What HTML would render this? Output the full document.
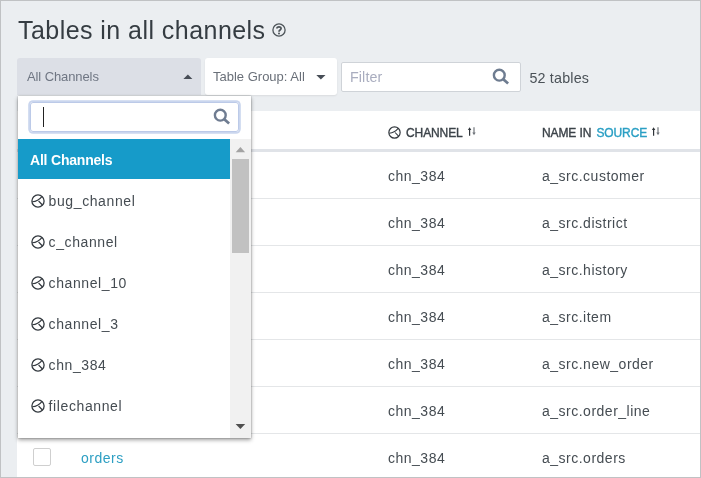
<!DOCTYPE html>
<html><head><meta charset="utf-8">
<style>
*{box-sizing:border-box;margin:0;padding:0}
html,body{width:701px;height:478px;overflow:hidden}
body{position:relative;background:#ebeef1;font-family:"Liberation Sans",sans-serif;color:#3b4248}
.abs{position:absolute}
.t{position:absolute;white-space:nowrap;display:inline-block;transform-origin:0 0}
#frame{left:0;top:0;width:701px;height:478px;border:1px solid #c0c2c4;z-index:50}
#title{left:18px;top:13px;font-size:25px;line-height:34px;color:#353c42;letter-spacing:.45px}
#sel{left:17px;top:58px;width:184px;height:37px;background:#dcdfe6;border-radius:3px 3px 0 0}
#sel .t{left:10px;top:11px;letter-spacing:-.1px;font-size:13px;color:#6f7683;line-height:16px}
.tri-up{position:absolute;width:0;height:0;border-left:4.4px solid transparent;border-right:4.4px solid transparent;border-bottom:4.4px solid #5a6169}
.tri-dn{position:absolute;width:0;height:0;border-left:4.5px solid transparent;border-right:4.5px solid transparent;border-top:4.4px solid #5a6169}
#tg{left:205px;top:58px;width:132px;height:37px;background:#fff;border-radius:3px;box-shadow:0 1px 2px rgba(0,0,0,.08)}
#tg .t{left:8px;top:11px;font-size:13px;color:#6a7079;line-height:16px}
#flt{left:341px;top:62px;width:180px;height:30px;background:#fff;border:1px solid #cfd3d8;border-radius:2px}
#flt .t{left:8px;top:5.7px;letter-spacing:.1px;font-size:14.3px;color:#a9adbf;line-height:16px}
#cnt{left:529.4px;top:70.3px;letter-spacing:.2px;font-size:14.3px;color:#4a5157;line-height:16px}
#table{left:17px;top:111px;width:684px;height:367px;background:#fff}
.hdr{position:absolute;top:0;left:0;width:100%;height:41px;border-bottom:3px solid #e0e3e8}
.row{position:absolute;left:0;width:100%;height:47px;border-bottom:1px solid #e4e6e8}
.c1,.c2{position:absolute;top:16px;font-size:14px;letter-spacing:.5px;line-height:17px;color:#454c52;white-space:nowrap;transform-origin:0 0}
.c1{left:371px}.c2{left:525px}
.h1,.h2{position:absolute;top:15px;font-size:12px;font-weight:400;-webkit-text-stroke:.37px;letter-spacing:-.1px;color:#3b4248;line-height:14px;white-space:nowrap;transform-origin:0 0}
.h1{left:389px}.h2{left:525px}
#dd{left:18px;top:96px;width:233px;height:342px;background:#fff;box-shadow:0 1.5px 4px rgba(0,0,0,.38), 0 0 1.5px rgba(0,0,0,.35);z-index:10}
#srch{position:absolute;left:12px;top:6px;width:209px;height:30px;border:1px solid #bccae8;border-radius:3px;box-shadow:0 0 0 1.8px #cad6ee}
#caret{position:absolute;left:12px;top:4px;width:1px;height:20px;background:#222}
#list{position:absolute;left:0;top:43px;width:212px;height:299px;overflow:hidden}
.opt{position:absolute;left:0;width:212px;height:41px;font-size:14px;letter-spacing:.6px;color:#454c52}
.opt .t{left:30.6px;top:13px;line-height:17px}
.opt svg{position:absolute;left:13.1px;top:14.3px;color:#33393f}
.opt.sel{background:#169bc9;color:#fff;font-weight:700;height:40px;letter-spacing:-.2px}
.opt.sel .t{left:12px}
#sb{position:absolute;left:212px;top:43px;width:21px;height:299px;background:#f1f1f1}
#thumb{position:absolute;left:2px;top:20px;width:17px;height:94px;background:#c1c1c1}
svg{overflow:visible}
body{will-change:transform}</style></head><body>
<svg width="0" height="0" style="position:absolute"><defs>
<g id="chn"><circle cx="7" cy="7" r="6.1" fill="none" stroke="currentColor" stroke-width="1.3"/><path d="M1.3 7.8 C4 7.6 7.5 6.8 10.9 2.6 M7.6 7 L11.4 11" fill="none" stroke="currentColor" stroke-width="1.15"/></g>
<g id="mag"><circle cx="6.3" cy="6.2" r="5.4" fill="none" stroke="currentColor" stroke-width="2.4"/><path d="M10 9.9 L15.1 14.6" stroke="currentColor" stroke-width="2.7"/></g>
<g id="sort"><path d="M2.6 8.8 V2" stroke="#2e3338" stroke-width="1.2"/><path d="M0.9 2.9 L2.6 0.2 L4.3 2.9Z" fill="#2e3338"/><path d="M7 0.2 V6.5" stroke="#70757b" stroke-width="1.2"/><path d="M5.3 5.6 L7 8.3 L8.7 5.6Z" fill="#70757b"/></g>
</defs></svg>
<div class="t" id="title">Tables in all channels</div>
<svg class="abs" style="left:272px;top:23px;color:#4d5459" width="14" height="14" viewBox="0 0 14 14"><circle cx="7" cy="7" r="6.1" fill="none" stroke="currentColor" stroke-width="1.3"/><path d="M4.9 5.6 C4.9 3.2 9.1 3.2 9.1 5.6 C9.1 7.1 7 7 7 8.7" fill="none" stroke="currentColor" stroke-width="1.7"/><circle cx="7" cy="10.5" r="1" fill="currentColor"/></svg>
<div class="abs" id="sel"><span class="t">All Channels</span><svg class="abs" style="left:0;top:0" width="184" height="37"><path d="M166.4 21.1 L170.9 16.6 L175.4 21.1Z" fill="#474d56"/></svg></div>
<div class="abs" id="tg"><span class="t">Table Group: All</span><svg class="abs" style="left:0;top:0" width="132" height="37"><path d="M111.3 16.9 L120.5 16.9 L115.9 21.4Z" fill="#474d56"/></svg></div>
<div class="abs" id="flt"><span class="t">Filter</span>
<svg class="abs" style="left:151.2px;top:6.2px;color:#6e7c90" width="16" height="16" viewBox="0 0 16 16"><use href="#mag"/></svg></div>
<div class="t" id="cnt">52 tables</div>
<div class="abs" id="table">
 <div class="hdr"><svg class="abs" style="left:371.4px;top:15.1px;color:#33393f" width="13" height="13" viewBox="0 0 14 14"><use href="#chn"/></svg><div class="h1">CHANNEL</div><svg class="abs" style="left:450px;top:16px" width="10" height="10"><use href="#sort"/></svg><div class="h2">NAME IN&nbsp;<span style="font-size:7px"> </span><span style="color:#2a9fc4">SOURCE</span></div><svg class="abs" style="left:634px;top:16px" width="10" height="10"><use href="#sort"/></svg></div>
 <div class="row" style="top:41px"><div class="c1">chn_384</div><div class="c2">a_src.customer</div></div>
 <div class="row" style="top:88px"><div class="c1">chn_384</div><div class="c2">a_src.district</div></div>
 <div class="row" style="top:135px"><div class="c1">chn_384</div><div class="c2">a_src.history</div></div>
 <div class="row" style="top:182px"><div class="c1">chn_384</div><div class="c2">a_src.item</div></div>
 <div class="row" style="top:229px"><div class="c1">chn_384</div><div class="c2">a_src.new_order</div></div>
 <div class="row" style="top:276px"><div class="c1">chn_384</div><div class="c2">a_src.order_line</div></div>
 <div class="row" style="top:323px;border:0"><div class="abs" style="left:16px;top:14px;width:18px;height:18px;border:1px solid #cfcfcf;border-radius:2px"></div><div class="c1" style="left:64px;color:#2d9fc3">orders</div><div class="c1">chn_384</div><div class="c2">a_src.orders</div></div>
</div>
<div class="abs" id="dd">
 <div id="srch"><div id="caret"></div><svg class="abs" style="left:183px;top:6px;color:#6f7c91" width="16" height="16" viewBox="0 0 16 16"><use href="#mag"/></svg></div>
 <div id="list">
  <div class="opt sel" style="top:0"><span class="t">All Channels</span></div>
  <div class="opt" style="top:41px"><svg width="14" height="14"><use href="#chn"/></svg><span class="t">bug_channel</span></div>
  <div class="opt" style="top:82px"><svg width="14" height="14"><use href="#chn"/></svg><span class="t">c_channel</span></div>
  <div class="opt" style="top:123px"><svg width="14" height="14"><use href="#chn"/></svg><span class="t">channel_10</span></div>
  <div class="opt" style="top:164px"><svg width="14" height="14"><use href="#chn"/></svg><span class="t">channel_3</span></div>
  <div class="opt" style="top:205px"><svg width="14" height="14"><use href="#chn"/></svg><span class="t">chn_384</span></div>
  <div class="opt" style="top:246px"><svg width="14" height="14"><use href="#chn"/></svg><span class="t">filechannel</span></div>
 </div>
 <div id="sb"><div id="thumb"></div>
  <svg class="abs" style="left:0;top:0" width="21" height="299"><path d="M5.7 13.2 L10.4 8 L15.1 13.2Z" fill="#a3a3a3"/><path d="M5.6 284.9 L15.2 284.9 L10.4 290.1Z" fill="#505050"/></svg>
  
 </div>
</div>
<div class="abs" id="frame"></div>
</body></html>
